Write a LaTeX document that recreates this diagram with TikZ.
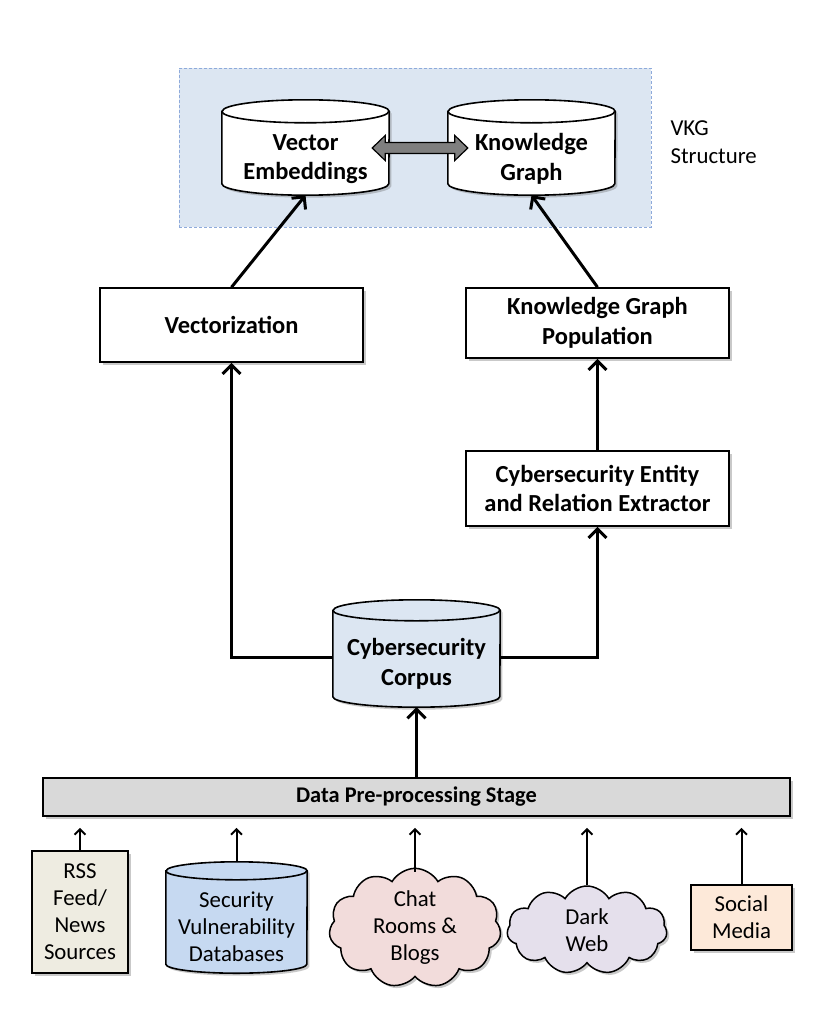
\documentclass[tikz,border=0pt]{standalone}
\usepackage{fontspec}
\setmainfont{Carlito}
\usetikzlibrary{shapes.geometric,shapes.symbols,arrows.meta,calc,shadows}
\pgfdeclarelayer{back}
\pgfdeclarelayer{bg}
\pgfsetlayers{back,bg,main}
\definecolor{vkgbg}{HTML}{DCE6F2}
\definecolor{vkgline}{HTML}{8EAADB}
\definecolor{corpfill}{HTML}{DCE6F2}
\definecolor{svdfill}{HTML}{C6D9F1}
\definecolor{rssfill}{HTML}{EEECE1}
\definecolor{chatfill}{HTML}{F2DCDB}
\definecolor{darkfill}{HTML}{E5E0EC}
\definecolor{socfill}{HTML}{FDE9D9}
\definecolor{barfill}{HTML}{D9D9D9}
\definecolor{dblfill}{HTML}{7F7F7F}
\tikzset{
  mydrop/.style={drop shadow={shadow xshift=2.5pt,shadow yshift=-2.5pt,opacity=0.35,fill=black!60}},
  lab/.style={font=\bfseries\fontsize{24.5}{29.5}\selectfont,align=center},
  srclab/.style={font=\fontsize{22.8}{27}\selectfont,align=center},
  procbox/.style={draw=black,line width=1.6pt,fill=white,mydrop,inner sep=0pt,lab},
  conn/.style={line width=3pt,-{Straight Barb[length=9pt,width=18pt,line width=3pt]}},
  sconn/.style={line width=2pt,-{Straight Barb[length=5.5pt,width=11pt,line width=2pt]},shorten >=11pt},
  cloudnode/.style={cloud,cloud puffs=11,cloud puff arc=120,cloud ignores aspect,draw=black,line width=1.5pt,mydrop,srclab,inner sep=0pt},
}
\newcommand\cyl[8]{%
  \node[#7,minimum width=#3pt,minimum height=#4pt,inner sep=0pt] (#1) at (#2) {#8};
  \begin{pgfonlayer}{bg}
  \path[fill=#6,draw=black,line width=1.6pt,mydrop]
    ([yshift=#5pt]#1.north west) -- ([yshift=#5pt]#1.south west)
    arc[start angle=180,end angle=360,x radius=#3pt/2,y radius=#5pt]
    -- ([yshift=#5pt]#1.north east)
    arc[start angle=0,end angle=180,x radius=#3pt/2,y radius=#5pt] -- cycle;
  \draw[line width=1.6pt] ([yshift=#5pt]#1.north west)
    arc[start angle=180,end angle=360,x radius=#3pt/2,y radius=#5pt];
  \end{pgfonlayer}}
\begin{document}
\begin{tikzpicture}[x=1pt,y=-1pt]
\begin{pgfonlayer}{back}
\fill[white] (0,0) rectangle (830,1028);
\end{pgfonlayer}
\useasboundingbox (0,0) rectangle (830,1028);
% VKG background
\begin{pgfonlayer}{back}
\node[draw=vkgline,fill=vkgbg,line width=1pt,dash pattern=on 3pt off 2pt,minimum width=472pt,minimum height=159pt,inner sep=0pt] (vkg) at (415,147.5) {};
\end{pgfonlayer}
\node[font=\fontsize{22.8}{28}\selectfont,align=left,anchor=west] (vkglab) at (667,142) {VKG\\Structure};
% cylinders
\cyl{ve}{305.5,159}{167}{72}{11.5}{white}{lab}{Vector\\Embeddings}
\cyl{kg}{531.5,159}{167}{72}{11.5}{white}{lab}{Knowledge\\Graph}
\cyl{corp}{416.5,664}{167}{86}{10.5}{corpfill}{lab}{Cybersecurity\\Corpus}
\cyl{svd}{236.5,926.5}{141}{93}{9}{svdfill}{srclab}{Security\\Vulnerability\\Databases}
% double arrow
\coordinate (da) at ($(ve.east)+(-17,-11)$);
\coordinate (db) at ($(kg.west)+(20,-11)$);
\filldraw[fill=dblfill,draw=black,line width=1.2pt,line join=miter]
  (da) -- ++(13,-12.5) -- ++(0,7) -- ($(db)+(-13,-5.5)$) -- ++(0,-7) -- (db)
  -- ++(-13,12.5) -- ++(0,-7) -- ($(da)+(13,5.5)$) -- ++(0,7) -- cycle;
% process boxes
\node[procbox,minimum width=263pt,minimum height=74pt] (vec) at (231.5,325) {Vectorization};
\node[procbox,minimum width=263pt,minimum height=70pt] (kgp) at (597.5,323) {Knowledge Graph\\Population};
\node[procbox,minimum width=263pt,minimum height=75pt] (cere) at (597.5,488.5) {Cybersecurity Entity\\and Relation Extractor};
% bar
\node[draw=black,fill=barfill,line width=1.6pt,mydrop,minimum width=747pt,minimum height=38pt,inner sep=0pt,font=\bfseries\fontsize{22.4}{26}\selectfont] (bar) at (416.5,797) {Data Pre-processing Stage};
% sources
\node[draw=black,fill=rssfill,line width=1.6pt,mydrop,minimum width=96pt,minimum height=122pt,inner sep=0pt,srclab] (rss) at (80,912) {RSS\\Feed/\\News\\Sources};
\node[cloudnode,fill=chatfill,minimum width=172pt,minimum height=107pt] (chat) at (415,928) {Chat\\Rooms \&\\Blogs};
\node[cloudnode,fill=darkfill,minimum width=160pt,minimum height=88pt] (dark) at (587,930) {Dark\\Web};
\node[draw=black,fill=socfill,line width=1.6pt,mydrop,minimum width=101pt,minimum height=65pt,inner sep=0pt,srclab] (soc) at (741.5,917.5) {Social\\Media};
% connectors
\draw[conn] (vec.north) -- (ve.south);
\draw[conn] (kgp.north) -- (kg.south);
\draw[conn] (cere.north) -- (kgp.south);
\draw[conn] ([yshift=7pt]corp.west) -| (vec.south);
\draw[conn] ([yshift=7pt]corp.east) -| (cere.south);
\draw[conn] (bar.north) -- (corp.south);
\draw[sconn] (rss.north) -- (rss.north |- bar.south);
\draw[sconn] ([yshift=18pt]svd.north) -- (svd.north |- bar.south);
\draw[sconn] ([yshift=-4pt]chat.north) -- (chat.north |- bar.south);
\draw[sconn] (dark.north) -- (dark.north |- bar.south);
\draw[sconn] (soc.north) -- (soc.north |- bar.south);
\end{tikzpicture}
\end{document}
